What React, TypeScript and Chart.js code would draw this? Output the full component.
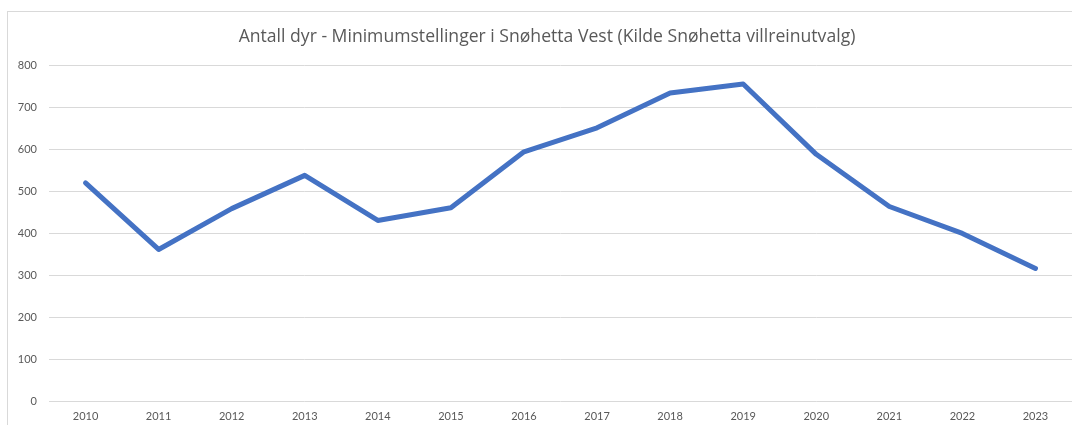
import React, { useEffect, useRef } from "react";
import { Chart, registerables } from "chart.js";

Chart.register(...registerables);

const years = ["2010", "2011", "2012", "2013", "2014", "2015", "2016", "2017", "2018", "2019", "2020", "2021", "2022", "2023"];
const animals = [520, 362, 459, 538, 431, 461, 594, 651, 734, 755, 588, 464, 400, 317];
const titleText = "Antall dyr - Minimumstellinger i Snøhetta Vest (Kilde Snøhetta villreinutvalg)";

const FONT = "Lato, 'Open Sans', sans-serif";
const TITLE_FONT = "'Open Sans', Lato, sans-serif";
const TEXT = "#595959";

export default function App() {
  const ref = useRef<HTMLCanvasElement | null>(null);

  useEffect(() => {
    if (!ref.current) return;
    const chart = new Chart(ref.current, {
      type: "line",
      data: {
        labels: years,
        datasets: [
          {
            label: "Antall dyr",
            data: animals,
            yAxisID: "y",
            borderColor: "#4472C4",
            backgroundColor: "#4472C4",
            borderWidth: 5,
            pointRadius: 0,
            tension: 0,
            borderJoinStyle: "round",
            borderCapStyle: "round",
          },
        ],
      },
      options: {
        animation: false,
        responsive: false,
        maintainAspectRatio: false,
        layout: { padding: { left: 0, right: 0, top: 14, bottom: 9 } },
        plugins: {
          legend: { display: false },
          tooltip: { enabled: false },
          title: {
            display: true,
            text: titleText,
            color: TEXT,
            font: { family: TITLE_FONT, size: 17.6, weight: "normal" },
            padding: { top: 0, bottom: 18 },
          },
        },
        scales: {
          x: {
            offset: true,
            grid: { display: false, drawTicks: false },
            border: { display: false },
            ticks: { color: TEXT, font: { family: FONT, size: 11 }, padding: 8, maxRotation: 0 },
          },
          y: {
            min: 0,
            max: 800,
            grid: { color: "#d9d9d9", lineWidth: 1, drawTicks: false },
            border: { display: false },
            ticks: { stepSize: 100, color: TEXT, font: { family: FONT, size: 11 }, padding: 12 },
            afterFit: (s: any) => {
              s.width = 41;
            },
          },
          yRight: {
            position: "right",
            min: 0,
            max: 800,
            grid: { display: false, drawTicks: false },
            border: { display: false },
            ticks: { display: false },
            afterFit: (s: any) => {
              s.width = 14;
            },
          },
        },
      },
    });
    return () => chart.destroy();
  }, []);

  return (
    <div style={{ position: "fixed", left: 0, top: 0, width: 1072, height: 425, overflow: "hidden", background: "#fff" }}>
      <div
        style={{
          position: "absolute",
          left: 7,
          top: 11,
          width: 1080,
          height: 430,
          boxSizing: "border-box",
          border: "1px solid #d9d9d9",
          background: "#fff",
        }}
      >
        <canvas ref={ref} width={1078} height={428} style={{ display: "block" }} />
      </div>
    </div>
  );
}
